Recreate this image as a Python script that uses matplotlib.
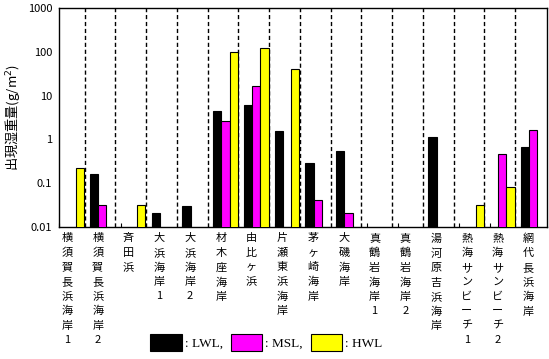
import matplotlib.pyplot as plt
from matplotlib.patches import Rectangle

plt.rcParams['font.family'] = ['Noto Sans CJK JP', 'DejaVu Sans']

# 地点名
sites = ['横須賀長浜海岸1', '横須賀長浜海岸2', '斉田浜', '大浜海岸1', '大浜海岸2',
         '材木座海岸', '由比ヶ浜', '片瀬東浜海岸', '茅ヶ崎海岸', '大磯海岸',
         '真鶴岩海岸1', '真鶴岩海岸2', '湯河原吉浜海岸', '熱海サンビーチ1',
         '熱海サンビーチ2', '網代長浜海岸']

# 出現湿重量 (g/m2)  0 = 出現なし
lwl = [0, 0.16, 0, 0.021, 0.03, 4.5, 6.1, 1.55, 0.29, 0.54, 0, 0, 1.13, 0, 0, 0.67]
msl = [0, 0.031, 0, 0, 0, 2.6, 16.4, 0, 0.040, 0.021, 0, 0, 0, 0, 0.45, 1.6]
hwl = [0.22, 0, 0.031, 0, 0, 98, 121, 40, 0, 0, 0, 0, 0, 0.031, 0.080, 0]

fig = plt.figure(figsize=(5.49, 3.59), dpi=100)
ax = fig.add_axes([0.108, 0.3685, 0.8884, 0.6085])
ax.set_yscale('log')

w = 0.267
x = list(range(len(sites)))
for vals, col, off in [(lwl, '#000000', 0), (msl, '#ff00ff', w), (hwl, '#ffff00', 2 * w)]:
    xs = [i + off for i, v in zip(x, vals) if v > 0]
    vs = [v for v in vals if v > 0]
    ax.bar(xs, vs, width=w, align='edge', color=col, edgecolor='black',
           linewidth=0.8, zorder=3)

# 区切り線
for i in x[:-1]:
    ax.axvline(i + 0.82, color='black', linestyle=(0, (3, 2)), linewidth=1.0, zorder=2)

ax.set_ylim(0.01, 1000)
ax.set_xlim(0, 15.855)
ax.set_yticks([0.01, 0.1, 1, 10, 100, 1000])
ax.set_yticklabels(['0.01', '0.1', '1', '10', '100', '1000'], fontsize=8)
ax.minorticks_off()
ax.tick_params(axis='y', length=0, pad=5)
ax.set_xticks(x)
ax.set_xticklabels([])
ax.tick_params(axis='x', direction='in', length=3, width=0.8)
for s in ax.spines.values():
    s.set_linewidth(1.0)

for i, name in zip(x, sites):
    ax.text(i + 0.25, -0.03, '\n'.join(name), transform=ax.get_xaxis_transform(),
            ha='center', va='top', fontsize=8, linespacing=1.55)

ax.set_ylabel('出現湿重量(g/m$^2$)', fontsize=9.5, labelpad=4)

handles = [Rectangle((0, 0), 1, 1, facecolor=c, edgecolor='black', linewidth=0.8)
           for c in ['#000000', '#ff00ff', '#ffff00']]
fig.legend(handles, [': LWL,', ': MSL,', ': HWL'], loc='center',
           bbox_to_anchor=(0.485, 0.045), ncol=3, frameon=False,
           handlelength=2.4, handleheight=1.6, handletextpad=0.2,
           columnspacing=0.6, prop={'family': 'Liberation Serif', 'size': 9.5})

fig.savefig('out.png', dpi=100)
